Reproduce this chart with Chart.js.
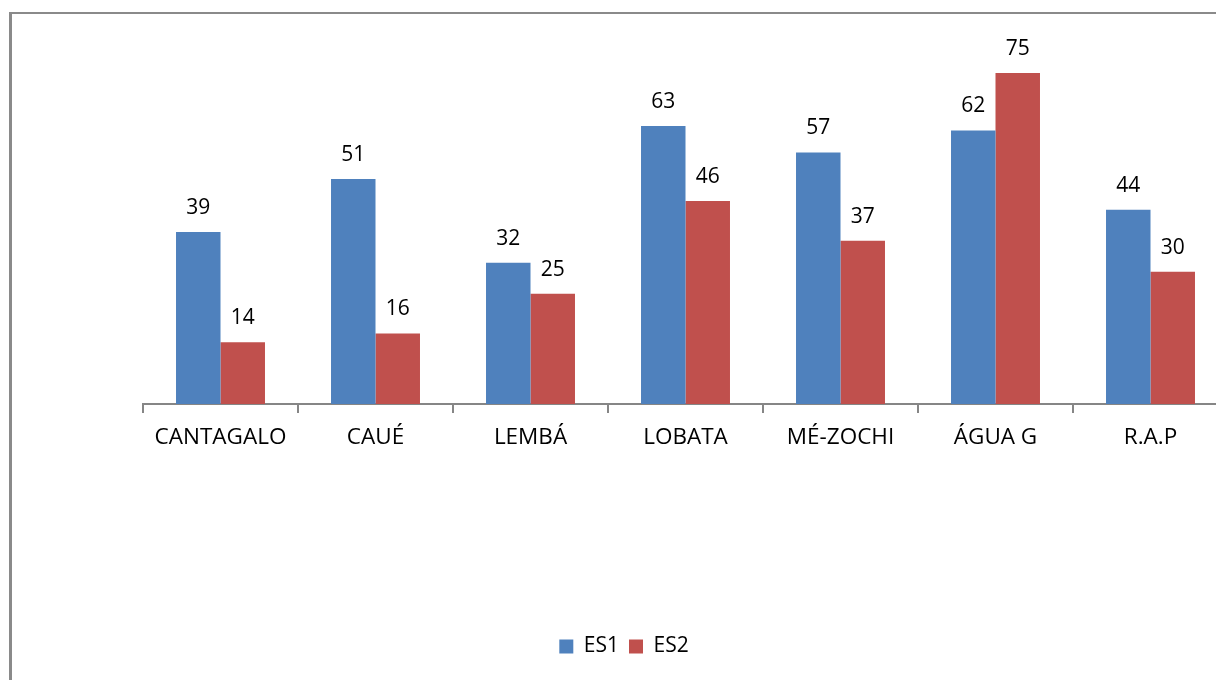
<!DOCTYPE html>
<html>
<head>
<meta charset="utf-8">
<script src="https://cdn.jsdelivr.net/npm/chart.js@4"></script>
<style>
  html, body { margin: 0; padding: 0; background: #fff; overflow: hidden; }
  #frame {
    position: absolute; left: 9px; top: 12px; width: 1400px; height: 900px;
    border-left: 3px solid #8a8a8a; border-top: 2px solid #8a8a8a;
  }
  #chart { position: absolute; left: 0; top: 0; }
</style>
</head>
<body>
<div id="frame"></div>
<canvas id="chart" width="1248" height="680"></canvas>
<script>
const categories = ['CANTAGALO', 'CAUÉ', 'LEMBÁ', 'LOBATA', 'MÉ-ZOCHI', 'ÁGUA G', 'R.A.P'];
const es1 = [39, 51, 32, 63, 57, 62, 44];
const es2 = [14, 16, 25, 46, 37, 75, 30];

const FONT = '"Open Sans", sans-serif';

// numbers above the bars
const valueLabels = {
  id: 'valueLabels',
  afterDatasetsDraw(chart) {
    const ctx = chart.ctx;
    ctx.save();
    ctx.font = '21px ' + FONT;
    ctx.fillStyle = '#000';
    ctx.textAlign = 'center';
    ctx.textBaseline = 'alphabetic';
    chart.data.datasets.forEach((ds, i) => {
      chart.getDatasetMeta(i).data.forEach((bar, j) => {
        ctx.fillText(ds.data[j], bar.x, bar.y - 18);
      });
    });
    ctx.restore();
  }
};

// invisible axis used only to reserve a fixed width
const spacer = (w, pos) => ({
  position: pos,
  display: true,
  grid: { display: false },
  border: { display: false },
  ticks: { display: false },
  afterFit(scale) { scale.width = w; }
});

new Chart(document.getElementById('chart').getContext('2d'), {
  type: 'bar',
  data: {
    labels: categories,
    datasets: [
      { label: 'ES1', data: es1, backgroundColor: '#4F81BD' },
      { label: 'ES2', data: es2, backgroundColor: '#C0504D' }
    ]
  },
  options: {
    responsive: false,
    animation: false,
    devicePixelRatio: 1,
    layout: { padding: { left: 0, right: 0, top: 51, bottom: 13 } },
    datasets: { bar: { barPercentage: 1, categoryPercentage: 0.574 } },
    plugins: {
      legend: {
        position: 'bottom',
        labels: {
          font: { family: FONT, size: 21 },
          color: '#000',
          boxWidth: 14,
          boxHeight: 14,
          padding: 10
        }
      },
      tooltip: { enabled: false }
    },
    scales: {
      y: Object.assign(spacer(143, 'left'), { min: 0, max: 80 }),
      yRight: spacer(20, 'right'),
      x: {
        border: { display: true, color: '#868686', width: 2 },
        grid: { display: true, drawOnChartArea: false, tickLength: 9, color: '#868686', lineWidth: 2 },
        ticks: { color: '#000', font: { family: FONT, size: 22.5 }, padding: 11, maxRotation: 0 },
        afterFit(scale) { scale.height = 222; }
      }
    }
  },
  plugins: [valueLabels]
});
</script>
</body>
</html>
